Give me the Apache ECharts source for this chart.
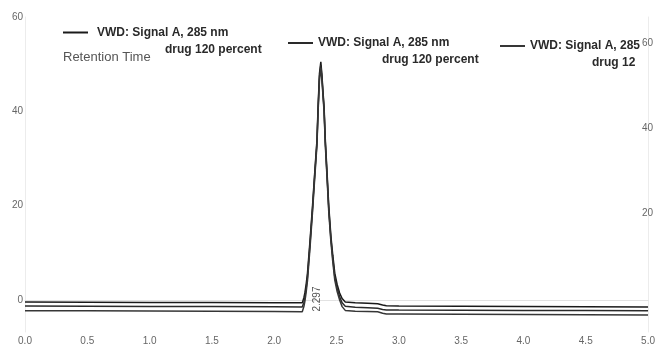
<!DOCTYPE html>
<html>
<head>
<meta charset="utf-8">
<script src="https://cdn.jsdelivr.net/npm/echarts@6/dist/echarts.min.js"></script>
<style>
html,body{margin:0;padding:0;background:#fff;}
#chart{width:658px;height:352px;}
</style>
</head>
<body>
<div id="chart"></div>
<script>
// Retention time (min), shared by the three traces
const times = [0, 0.5, 1.0, 1.5, 2.0, 2.225, 2.238, 2.246, 2.257, 2.267, 2.287, 2.307, 2.325, 2.343, 2.352, 2.363, 2.374, 2.382, 2.392, 2.4, 2.41, 2.424, 2.438, 2.455, 2.47, 2.486, 2.505, 2.525, 2.545, 2.57, 2.65, 2.75, 2.83, 2.87, 2.9, 3.0, 3.5, 4.0, 4.5, 5.0];
// Signal of each trace (mAU)
const traceA = [-0.4, -0.45, -0.5, -0.55, -0.6, -0.6, 0.5, 1.5, 3.5, 5.7, 12.5, 19.8, 27, 33.9, 41, 48, 50.5, 48, 44, 41, 34, 27, 19.8, 13.5, 9.5, 5.7, 3.3, 1.5, 0.3, -0.4, -0.6, -0.7, -0.8, -1.05, -1.2, -1.25, -1.3, -1.37, -1.43, -1.5];
const traceB = [-1.25, -1.3, -1.35, -1.4, -1.45, -1.5, -0.5, 0.6, 2.6, 4.9, 11.8, 19.2, 26.5, 33.4, 40.4, 47.3, 49.8, 47.5, 43.5, 40.5, 33.4, 26.4, 19.2, 12.9, 8.8, 4.9, 2.5, 0.7, -0.6, -1.3, -1.55, -1.65, -1.75, -2.0, -2.1, -2.12, -2.15, -2.2, -2.24, -2.28];
const traceC = [-2.25, -2.3, -2.35, -2.4, -2.45, -2.5, -1.4, -0.3, 1.8, 4.1, 11.0, 18.5, 25.8, 32.8, 39.8, 46.6, 49.2, 47.0, 43.0, 40.0, 32.8, 25.8, 18.5, 12.3, 8.1, 4.2, 1.8, 0.0, -1.4, -2.2, -2.4, -2.45, -2.5, -2.8, -2.95, -2.97, -3.02, -3.08, -3.14, -3.2];
const seriesNames = ['trace1', 'trace2', 'trace3'];
const legendLine1 = ['VWD: Signal A, 285 nm', 'VWD: Signal A, 285 nm', 'VWD: Signal A, 285'];
const legendLine2 = ['drug 120 percent', 'drug 120 percent', 'drug 12'];
const leftTicks = [0, 20, 40, 60];
const rightTicks = [20, 40, 60];
const peakLabel = '2.297';
const peakLabelAt = [2.345, 0.2];

const chart = echarts.init(document.getElementById('chart'), null, {renderer: 'canvas'});

function pairs(vals) { return times.map((t, i) => [t, vals[i]]); }
const traces = [traceA, traceB, traceC];
const lineColors = ['#1a1a1a', '#2a2a2a', '#363636'];

const legendPos = [
  {left: 63, top: 9.5, pad1: 4, pad2: 72},
  {left: 288, top: 20, pad1: 0, pad2: 64},
  {left: 500, top: 23, pad1: 0, pad2: 62}
];

const legends = seriesNames.map((n, i) => ({
  data: [n],
  left: legendPos[i].left,
  top: legendPos[i].top,
  padding: 0,
  icon: 'rect',
  itemWidth: 25,
  itemHeight: 2,
  selectedMode: false,
  formatter: () => '{s| }\n{a|' + legendLine1[i] + '}\n{b|' + legendLine2[i] + '}',
  textStyle: {
    rich: {
      s: {fontSize: 12, lineHeight: 17},
      a: {fontSize: 12, fontWeight: 'bold', color: '#2a2a2a', lineHeight: 17, fontFamily: 'Liberation Sans', padding: [0, 0, 0, legendPos[i].pad1]},
      b: {fontSize: 12, fontWeight: 'bold', color: '#2a2a2a', lineHeight: 17, fontFamily: 'Liberation Sans', padding: [0, 0, 0, legendPos[i].pad2]}
    }
  }
}));

const series = seriesNames.map((n, i) => {
  const s = {
    name: n,
    type: 'line',
    data: pairs(traces[i]),
    showSymbol: false,
    symbol: 'none',
    yAxisIndex: 0,
    lineStyle: {color: lineColors[i], width: 1.5},
    itemStyle: {color: lineColors[i]},
    animation: false
  };
  if (i === 0) {
    s.markPoint = {
      symbol: 'circle',
      symbolSize: 0,
      animation: false,
      data: [{
        coord: peakLabelAt,
        label: {show: true, formatter: peakLabel, rotate: 90, position: 'inside', fontSize: 10, color: '#555', fontFamily: 'Liberation Sans'}
      }]
    };
  }
  return s;
});

const option = {
  animation: false,
  backgroundColor: '#fff',
  title: {
    text: 'Retention Time', left: 63, top: 50.5, padding: 0,
    textStyle: {fontSize: 13, fontWeight: 'normal', color: '#555', fontFamily: 'Liberation Sans'}
  },
  legend: legends,
  grid: {left: 25, right: 6, top: 17, bottom: 20, containLabel: false},
  xAxis: {
    type: 'value', min: 0, max: 5, interval: 0.5,
    axisLine: {show: true, lineStyle: {color: '#e2e2e2'}},
    axisTick: {show: false},
    splitLine: {show: false},
    axisLabel: {margin: 4, fontSize: 10, color: '#666', fontFamily: 'Liberation Sans', formatter: v => v.toFixed(1)}
  },
  yAxis: [
    {
      type: 'value', min: -6.78, max: 60, splitNumber: 3,
      axisLine: {show: true, lineStyle: {color: '#ececec'}},
      axisTick: {show: false},
      splitLine: {show: false},
      axisLabel: {margin: 2, fontSize: 10, color: '#666', fontFamily: 'Liberation Sans',
        formatter: v => leftTicks.indexOf(Math.round(v * 100) / 100) >= 0 ? String(v) : ''}
    },
    {
      type: 'value', position: 'right', min: -8, max: 66.12, splitNumber: 3,
      axisLine: {show: true, lineStyle: {color: '#ececec'}},
      axisTick: {show: false},
      splitLine: {show: false},
      axisLabel: {inside: true, margin: -5, fontSize: 10, color: '#666', fontFamily: 'Liberation Sans',
        formatter: v => rightTicks.indexOf(Math.round(v * 100) / 100) >= 0 ? String(v) : ''}
    }
  ],
  series: series
};
chart.setOption(option);
</script>
</body>
</html>
